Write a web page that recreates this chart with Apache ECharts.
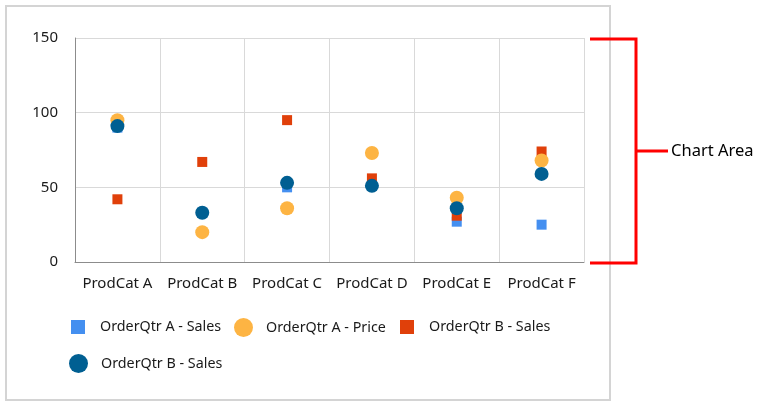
<!DOCTYPE html>
<html>
<head>
<meta charset="utf-8">
<script src="https://cdn.jsdelivr.net/npm/echarts@6/dist/echarts.min.js"></script>
<style>html,body{margin:0;padding:0;background:#fff}#c{width:757px;height:408px}</style>
</head>
<body>
<div id="c"></div>
<script>
const categories = ['ProdCat A', 'ProdCat B', 'ProdCat C', 'ProdCat D', 'ProdCat E', 'ProdCat F'];
const aSales = [90, 33, 50, 51, 27, 25];
const aPrice = [95, 20, 36, 73, 43, 68];
const bSalesSquare = [42, 67, 95, 56, 31, 74];
const bSalesCircle = [91, 33, 53, 51, 36, 59];
const yTicks = [0, 50, 100, 150];
const legendLabels = ['OrderQtr A - Sales', 'OrderQtr A - Price', 'OrderQtr B - Sales', 'OrderQtr B - Sales'];
const seriesIds = ['aSales', 'aPrice', 'bSalesSq', 'bSalesCirc'];

const FONT = '"Noto Sans", "Open Sans", sans-serif';
const chart = echarts.init(document.getElementById('c'), null, {renderer: 'canvas'});

function legendFor(i, icon, size, left, top, pad) {
  return {
    data: [{name: seriesIds[i], icon: icon}],
    left: left, top: top, orient: 'horizontal',
    itemWidth: size, itemHeight: size,
    padding: 0,
    formatter: () => legendLabels[i],
    textStyle: {fontFamily: FONT, fontSize: 14.3, color: '#1a1a1a', padding: [0, 0, 0, pad]}
  };
}

chart.setOption({
  animation: false,
  backgroundColor: '#fff',
  grid: {left: 75, right: 173, top: 38, bottom: 146, containLabel: false},
  xAxis: {
    type: 'category', data: categories, boundaryGap: true,
    axisLine: {show: true, lineStyle: {color: '#8c8c8c', width: 1}},
    axisTick: {show: false, interval: 0},
    splitLine: {show: true, interval: 0, lineStyle: {color: '#d9d9d9', width: 1}},
    axisLabel: {interval: 0, fontFamily: FONT, fontSize: 15, color: '#1a1a1a', margin: 14}
  },
  yAxis: {
    type: 'value', min: yTicks[0], max: yTicks[yTicks.length - 1], interval: 50,
    axisLine: {show: true, lineStyle: {color: '#8c8c8c', width: 1}},
    axisTick: {show: false},
    splitLine: {show: true, lineStyle: {color: '#d9d9d9', width: 1}},
    axisLabel: {fontFamily: FONT, fontSize: 15, color: '#1a1a1a', margin: 17}
  },
  legend: [
    legendFor(0, 'rect', 14, 71, 320, 10),
    legendFor(1, 'circle', 19, 234, 318, 8),
    legendFor(2, 'rect', 14, 400, 320, 10),
    legendFor(3, 'circle', 19, 69, 354, 8)
  ],
  series: [
    {name: seriesIds[0], type: 'scatter', data: aSales, symbol: 'rect', symbolSize: 10, itemStyle: {color: '#448ff0', opacity: 1}, z: 2},
    {name: seriesIds[2], type: 'scatter', data: bSalesSquare, symbol: 'rect', symbolSize: 10, itemStyle: {color: '#e0400a', opacity: 1}, z: 3},
    {name: seriesIds[1], type: 'scatter', data: aPrice, symbol: 'circle', symbolSize: 14, itemStyle: {color: '#fdb443', opacity: 1}, z: 4},
    {name: seriesIds[3], type: 'scatter', data: bSalesCircle, symbol: 'circle', symbolSize: 14, itemStyle: {color: '#005f92', opacity: 1}, z: 5}
  ],
  graphic: [
    {type: 'rect', shape: {x: 6, y: 6, width: 604, height: 394}, style: {fill: 'none', stroke: '#d4d4d4', lineWidth: 2}, silent: true},
    {type: 'polyline', shape: {points: [[590, 39], [636, 39], [636, 263], [590, 263]]}, style: {fill: 'none', stroke: '#ff0000', lineWidth: 3}, silent: true},
    {type: 'line', shape: {x1: 636, y1: 151, x2: 668, y2: 151}, style: {stroke: '#ff0000', lineWidth: 3}, silent: true},
    {type: 'text', x: 671, y: 151, style: {text: 'Chart Area', fontFamily: FONT, fontSize: 16.5, fill: '#000', verticalAlign: 'middle', align: 'left'}, silent: true}
  ]
});
</script>
</body>
</html>
